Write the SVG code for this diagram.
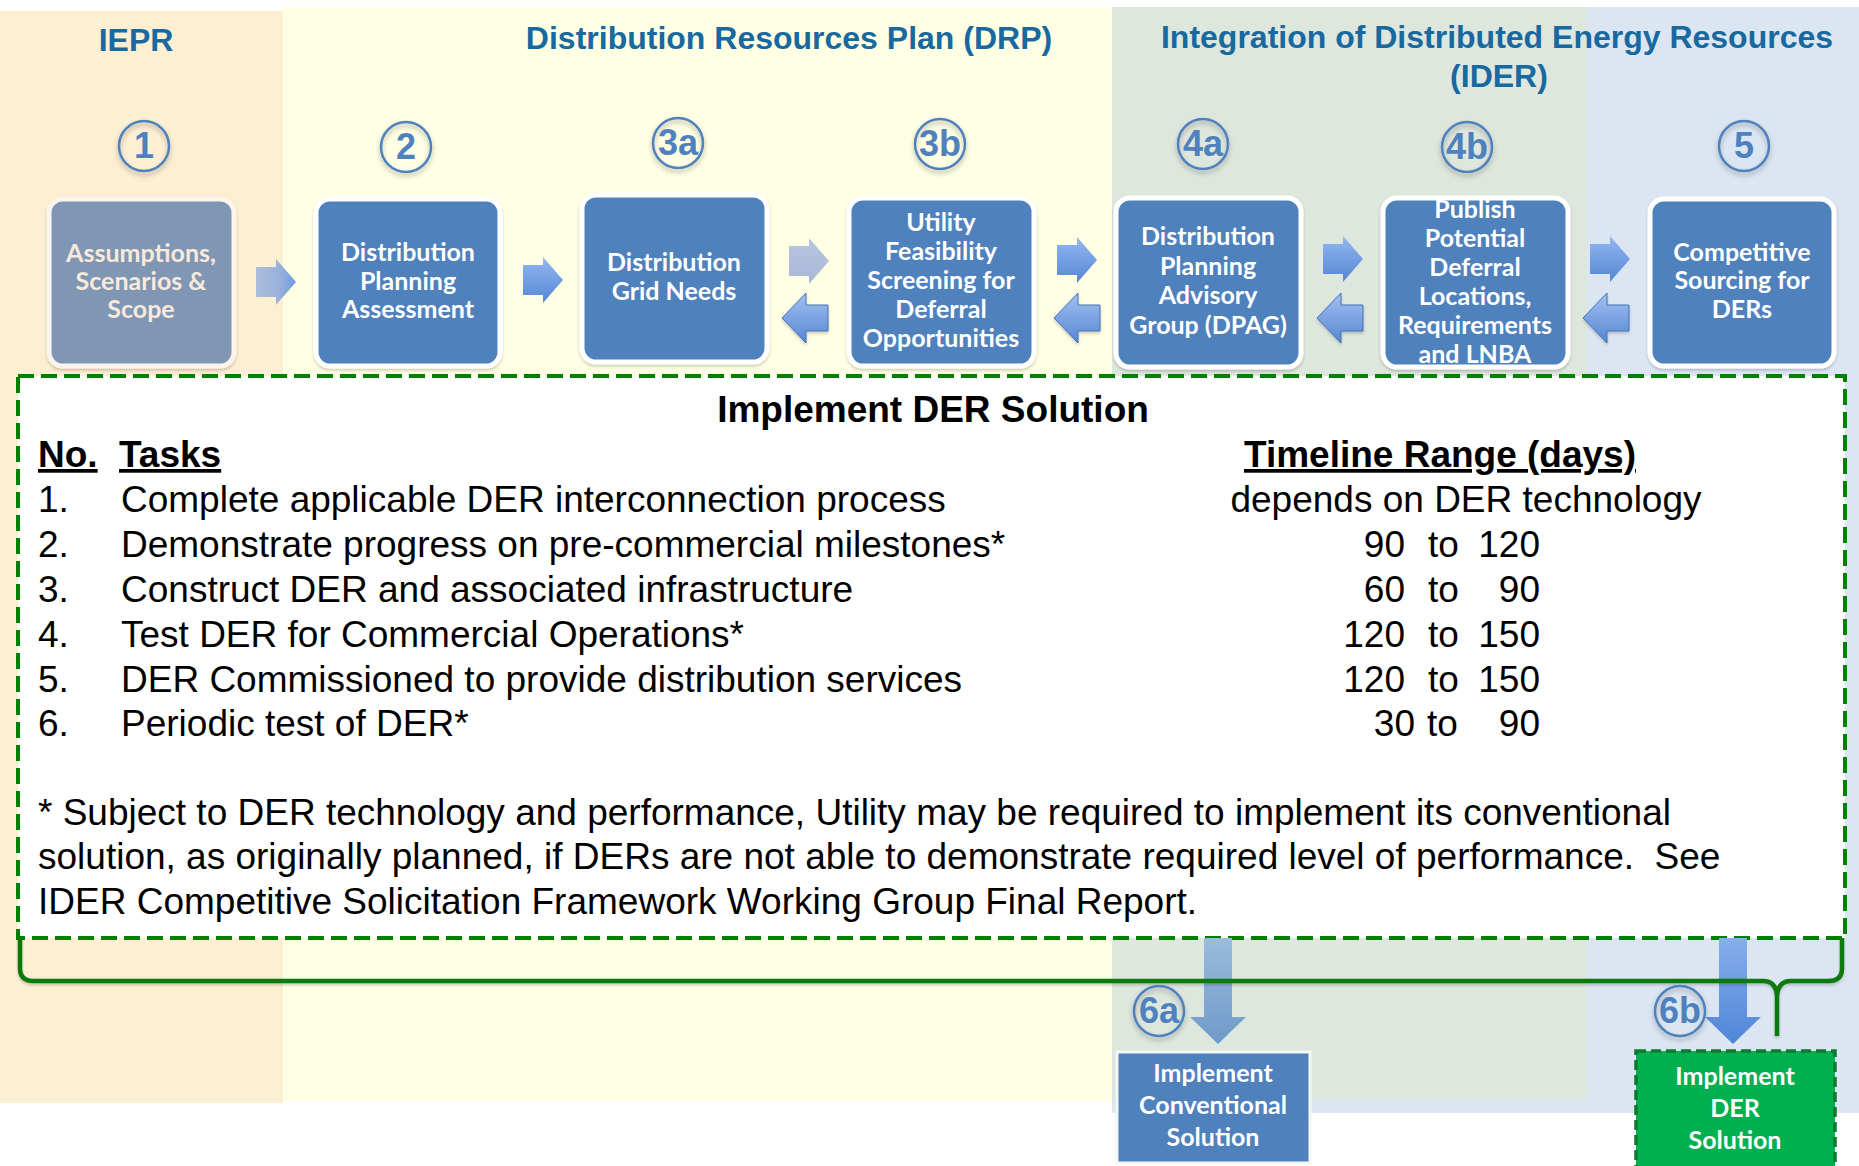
<svg xmlns="http://www.w3.org/2000/svg" xmlns:xlink="http://www.w3.org/1999/xlink" width="1859" height="1166" viewBox="0 0 1859 1166">
<defs>
<style>
.title{font-family:"Liberation Sans",Arial,sans-serif;font-weight:bold;font-size:32px;fill:#17699F;text-anchor:middle}
.num{font-family:"Liberation Sans",Arial,sans-serif;font-weight:bold;font-size:36px;fill:#4F81BD;text-anchor:middle}
.ring{fill:none;stroke:#4F81BD;stroke-width:2.5}
.box{fill:#4F81BD;stroke:#FFFFFF;stroke-width:5}
.lbl{font-family:Lato,"Open Sans",sans-serif;font-weight:bold;font-size:25px;fill:#FFFFFF;text-anchor:middle}
.body{font-family:"Liberation Sans",Arial,sans-serif;font-size:37px;fill:#000000}
.hdr{font-family:"Liberation Sans",Arial,sans-serif;font-size:37px;font-weight:bold;fill:#000000;text-decoration:underline}
.ra{fill:url(#gBlue)}
.la{fill:url(#gLeft);stroke:#4472B8;stroke-width:1}
</style>
<linearGradient id="gBlue" x1="0" y1="0" x2="0" y2="1"><stop offset="0" stop-color="#93B8F0"/><stop offset="1" stop-color="#5586D6"/></linearGradient>
<linearGradient id="gLeft" x1="0" y1="0" x2="0" y2="1"><stop offset="0" stop-color="#A3C2F2"/><stop offset="1" stop-color="#5586D2"/></linearGradient>
<linearGradient id="gPale1" x1="0" y1="0" x2="1" y2="0"><stop offset="0" stop-color="#AEBDD9"/><stop offset="0.6" stop-color="#98B0DA"/><stop offset="1" stop-color="#6C9BE2"/></linearGradient>
<linearGradient id="gPale2" x1="0" y1="0" x2="0" y2="1"><stop offset="0" stop-color="#B8C5E0"/><stop offset="1" stop-color="#A8B8D8"/></linearGradient>
<linearGradient id="g6a" x1="0" y1="0" x2="0" y2="1"><stop offset="0" stop-color="#9BBCDC"/><stop offset="1" stop-color="#6E9ACA"/></linearGradient>
<linearGradient id="g6b" x1="0" y1="0" x2="0" y2="1"><stop offset="0" stop-color="#86AEEC"/><stop offset="1" stop-color="#4F85D8"/></linearGradient>
<filter id="sh" x="-20%" y="-20%" width="140%" height="150%"><feDropShadow dx="0" dy="3" stdDeviation="2.5" flood-color="#000000" flood-opacity="0.3"/></filter>
<filter id="shs" x="-10%" y="-10%" width="120%" height="130%"><feDropShadow dx="0" dy="2" stdDeviation="1.5" flood-color="#000000" flood-opacity="0.2"/></filter>
<path id="ra" d="M-20,-15 H0 V-23 L20,0 L0,23 V15 H-20 Z"/>
<path id="la" d="M-24,0 L0,-25 V-13 H22 V13 H0 V25 Z"/>
<path id="da" d="M-14,-79 H14 V0 H28 L0,27 L-28,0 H-14 Z"/>
</defs>

<g id="backgrounds">
<rect x="0" y="11" width="283" height="1092" fill="#FDEFD2"/>
<rect x="283" y="7" width="829" height="1094" fill="#FFFFE4"/>
<rect x="1112" y="7" width="747" height="1106" fill="#DCE6F3"/>
<rect x="1112" y="7" width="475" height="1093" fill="#DEE7DE"/>
</g>

<g id="titles">
<text class="title" x="136" y="51">IEPR</text>
<text class="title" x="789" y="49">Distribution Resources Plan (DRP)</text>
<text class="title" x="1497" y="48">Integration of Distributed Energy Resources</text>
<text class="title" x="1499" y="87">(IDER)</text>
</g>

<g id="connectors">
<use href="#ra" x="276" y="282" fill="url(#gPale1)"/>
<use href="#ra" x="543" y="280" class="ra"/>
<use href="#ra" x="809" y="261" fill="url(#gPale2)"/>
<use href="#ra" x="1077" y="260" class="ra"/>
<use href="#ra" x="1343" y="259" class="ra"/>
<use href="#ra" x="1610" y="259" class="ra"/>
<use href="#la" x="806" y="318" class="la" filter="url(#shs)"/>
<use href="#la" x="1078" y="318" class="la" filter="url(#shs)"/>
<use href="#la" x="1341" y="318" class="la" filter="url(#shs)"/>
<use href="#la" x="1607" y="318" class="la" filter="url(#shs)"/>
</g>

<g id="node1">
<circle class="ring" cx="144" cy="146" r="25" filter="url(#sh)"/>
<text class="num" x="144" y="158">1</text>
<rect x="49" y="199" width="185" height="167" rx="14" fill="#7F96B5" stroke="#FDF4EC" stroke-width="5" filter="url(#shs)"/>
<text class="lbl" x="141" y="262" style="fill:#FBE9DA">Assumptions,</text>
<text class="lbl" x="141" y="290" style="fill:#FBE9DA">Scenarios &amp;</text>
<text class="lbl" x="141" y="318" style="fill:#FBE9DA">Scope</text>
</g>

<g id="node2">
<circle class="ring" cx="406" cy="147" r="25" filter="url(#sh)"/>
<text class="num" x="406" y="159">2</text>
<rect class="box" x="316" y="199" width="184" height="167" rx="14" filter="url(#shs)"/>
<text class="lbl" x="408" y="261">Distribution</text>
<text class="lbl" x="408" y="290">Planning</text>
<text class="lbl" x="408" y="318">Assessment</text>
</g>

<g id="node3a">
<circle class="ring" cx="678" cy="143" r="25" filter="url(#sh)"/>
<text class="num" x="678" y="155">3a</text>
<rect class="box" x="582" y="195" width="185" height="167" rx="14" filter="url(#shs)"/>
<text class="lbl" x="674" y="271">Distribution</text>
<text class="lbl" x="674" y="300">Grid Needs</text>
</g>

<g id="node3b">
<circle class="ring" cx="940" cy="144" r="25" filter="url(#sh)"/>
<text class="num" x="940" y="156">3b</text>
<rect class="box" x="849" y="198" width="185" height="168" rx="14" filter="url(#shs)"/>
<text class="lbl" x="941" y="231">Utility</text>
<text class="lbl" x="941" y="260">Feasibility</text>
<text class="lbl" x="941" y="289">Screening for</text>
<text class="lbl" x="941" y="318">Deferral</text>
<text class="lbl" x="941" y="347">Opportunities</text>
</g>

<g id="node4a">
<circle class="ring" cx="1203" cy="144" r="25" filter="url(#sh)"/>
<text class="num" x="1203" y="156">4a</text>
<rect class="box" x="1116" y="198" width="185" height="169" rx="14" filter="url(#shs)"/>
<text class="lbl" x="1208" y="245">Distribution</text>
<text class="lbl" x="1208" y="275">Planning</text>
<text class="lbl" x="1208" y="304">Advisory</text>
<text class="lbl" x="1208" y="334">Group (DPAG)</text>
</g>

<g id="node4b">
<circle class="ring" cx="1467" cy="147" r="25" filter="url(#sh)"/>
<text class="num" x="1467" y="159">4b</text>
<rect class="box" x="1383" y="198" width="185" height="169" rx="14" filter="url(#shs)"/>
<text class="lbl" x="1475" y="218">Publish</text>
<text class="lbl" x="1475" y="247">Potential</text>
<text class="lbl" x="1475" y="276">Deferral</text>
<text class="lbl" x="1475" y="305">Locations,</text>
<text class="lbl" x="1475" y="334">Requirements</text>
<text class="lbl" x="1475" y="363">and LNBA</text>
</g>

<g id="node5">
<circle class="ring" cx="1744" cy="146" r="25" filter="url(#sh)"/>
<text class="num" x="1744" y="158">5</text>
<rect class="box" x="1650" y="199" width="184" height="167" rx="14" filter="url(#shs)"/>
<text class="lbl" x="1742" y="261">Competitive</text>
<text class="lbl" x="1742" y="289">Sourcing for</text>
<text class="lbl" x="1742" y="318">DERs</text>
</g>

<g id="implement-der-box">
<rect x="18" y="376" width="1827" height="562" fill="#FFFFFF" stroke="#008000" stroke-width="4" stroke-dasharray="16 7"/>
<text class="hdr" x="933" y="422" style="text-decoration:none;text-anchor:middle">Implement DER Solution</text>
<text class="hdr" x="38" y="467">No.</text>
<text class="hdr" x="119" y="467">Tasks</text>
<text class="hdr" x="1440" y="467" style="text-anchor:middle">Timeline Range (days)</text>
<text class="body" x="38" y="512">1.</text>
<text class="body" x="121" y="512">Complete applicable DER interconnection process</text>
<text class="body" x="1466" y="512" style="text-anchor:middle">depends on DER technology</text>
<text class="body" x="38" y="557">2.</text>
<text class="body" x="121" y="557">Demonstrate progress on pre-commercial milestones*</text>
<text class="body" x="1405" y="557" style="text-anchor:end">90</text>
<text class="body" x="1428" y="557">to</text>
<text class="body" x="1540" y="557" style="text-anchor:end">120</text>
<text class="body" x="38" y="602">3.</text>
<text class="body" x="121" y="602">Construct DER and associated infrastructure</text>
<text class="body" x="1405" y="602" style="text-anchor:end">60</text>
<text class="body" x="1428" y="602">to</text>
<text class="body" x="1540" y="602" style="text-anchor:end">90</text>
<text class="body" x="38" y="647">4.</text>
<text class="body" x="121" y="647">Test DER for Commercial Operations*</text>
<text class="body" x="1405" y="647" style="text-anchor:end">120</text>
<text class="body" x="1428" y="647">to</text>
<text class="body" x="1540" y="647" style="text-anchor:end">150</text>
<text class="body" x="38" y="692">5.</text>
<text class="body" x="121" y="692">DER Commissioned to provide distribution services</text>
<text class="body" x="1405" y="692" style="text-anchor:end">120</text>
<text class="body" x="1428" y="692">to</text>
<text class="body" x="1540" y="692" style="text-anchor:end">150</text>
<text class="body" x="38" y="736">6.</text>
<text class="body" x="121" y="736">Periodic test of DER*</text>
<text class="body" x="1415" y="736" style="text-anchor:end">30</text>
<text class="body" x="1427" y="736">to</text>
<text class="body" x="1540" y="736" style="text-anchor:end">90</text>
<text class="body" x="38" y="825">* Subject to DER technology and performance, Utility may be required to implement its conventional</text>
<text class="body" x="38" y="869" style="white-space:pre">solution, as originally planned, if DERs are not able to demonstrate required level of performance.  See</text>
<text class="body" x="38" y="914">IDER Competitive Solicitation Framework Working Group Final Report.</text>
</g>

<g id="outcome-connectors">
<use href="#da" x="1218" y="1017" fill="url(#g6a)"/>
<use href="#da" x="1733" y="1017" fill="url(#g6b)"/>
</g>

<g id="brace">
<path d="M20,938 V968 Q20,981 33,981 H1763 Q1776,981 1777,996 V1036 M1777,996 Q1778,981 1791,981 H1829 Q1842,981 1842,968 V938" fill="none" stroke="#0A7A0A" stroke-width="4.5" stroke-linejoin="round" filter="url(#shs)"/>
</g>

<g id="node6a">
<circle class="ring" cx="1159" cy="1011" r="25" filter="url(#sh)"/>
<text class="num" x="1159" y="1023">6a</text>
<rect x="1117" y="1052" width="193" height="111" fill="#4F81BD" stroke="#F4F8F4" stroke-width="3"/>
<text class="lbl" x="1213" y="1082">Implement</text>
<text class="lbl" x="1213" y="1114">Conventional</text>
<text class="lbl" x="1213" y="1146">Solution</text>
</g>

<g id="node6b">
<circle class="ring" cx="1680" cy="1011" r="25" filter="url(#sh)"/>
<text class="num" x="1680" y="1023">6b</text>
<rect x="1636" y="1051" width="199" height="118" fill="#00B050" stroke="#0B7A2E" stroke-width="3.5" stroke-dasharray="10 5"/>
<text class="lbl" x="1735" y="1085">Implement</text>
<text class="lbl" x="1735" y="1117">DER</text>
<text class="lbl" x="1735" y="1149">Solution</text>
</g>
</svg>
